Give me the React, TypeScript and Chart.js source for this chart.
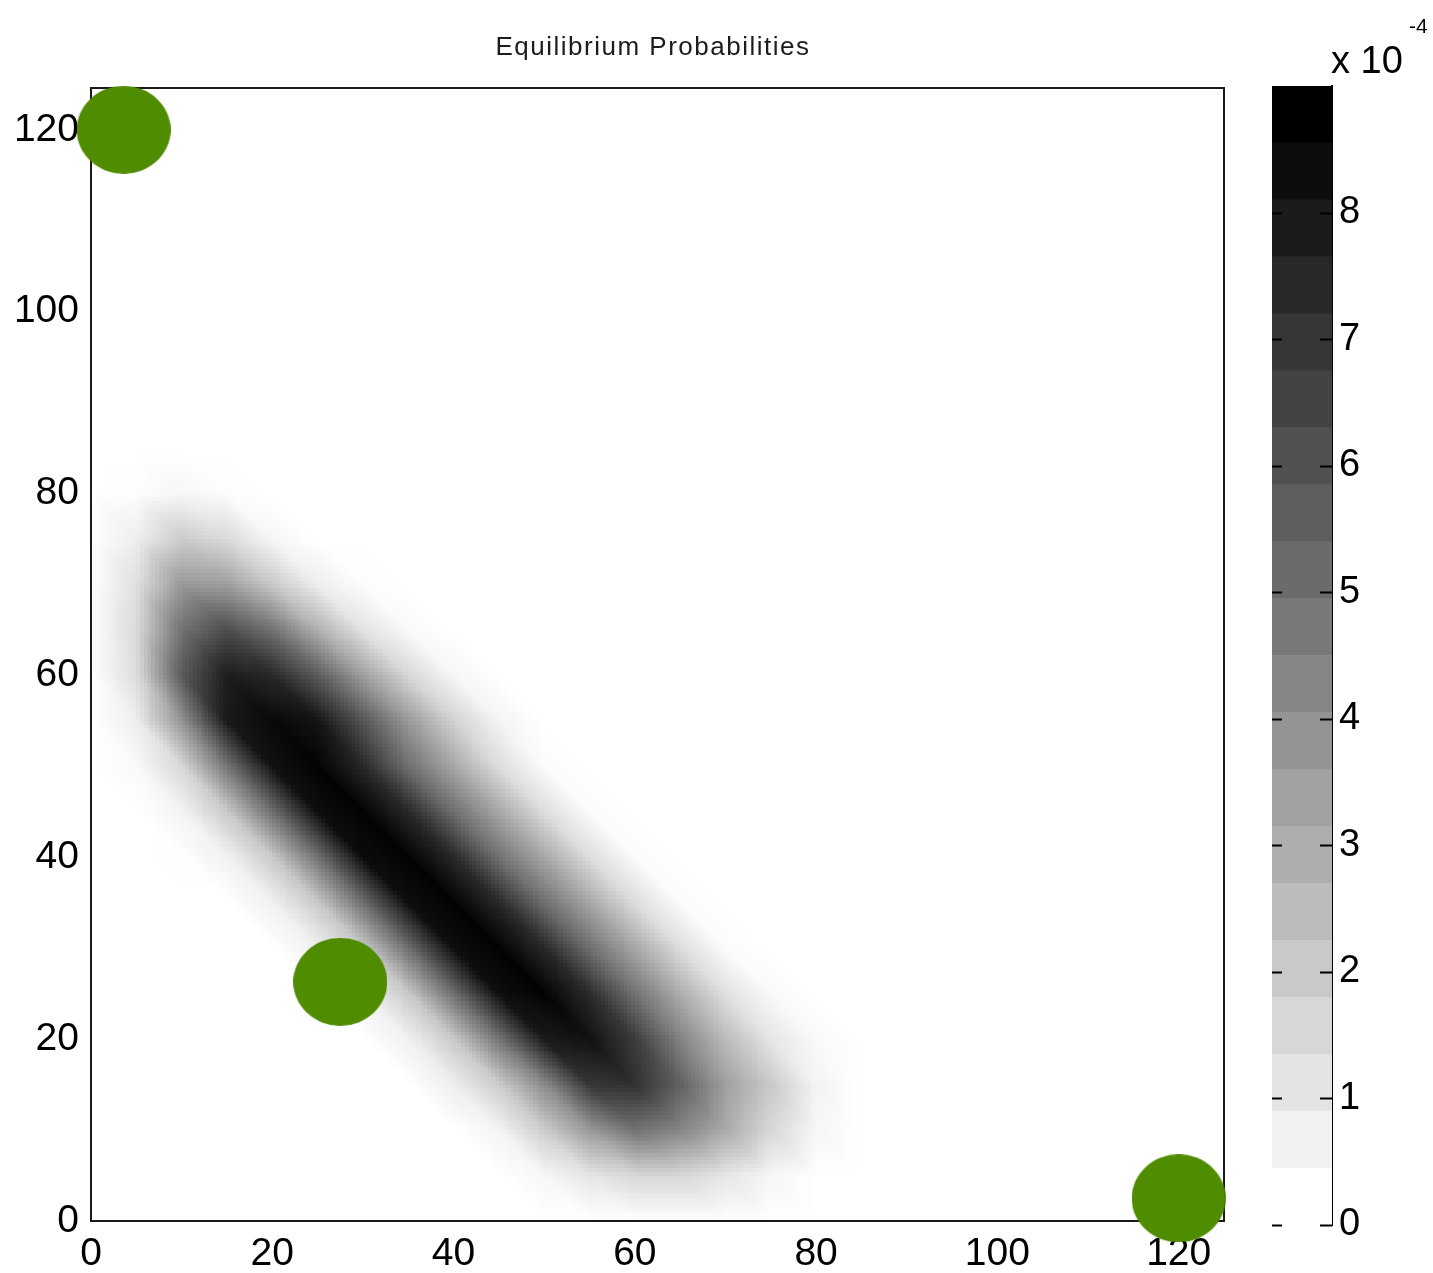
import React, { useEffect, useRef } from 'react';
import { Chart, registerables } from 'chart.js';

Chart.register(...registerables);

// ---------- data ----------
const chartTitle = 'Equilibrium Probabilities';
const xTickValues = [0, 20, 40, 60, 80, 100, 120];
const yTickValues = [0, 20, 40, 60, 80, 100, 120];
const cbTickValues = [0, 1, 2, 3, 4, 5, 6, 7, 8];
const cbMultiplier = 'x 10';
const cbExponent = '-4';

// grid nodes of the probability surface (values in units of 1e-4)
const heatX = [0, 5, 10, 15, 20, 25, 30, 35, 40, 45, 50, 55, 60, 65, 70, 75, 80, 85, 90];
const heatY = [0, 5, 10, 15, 20, 25, 30, 35, 40, 45, 50, 55, 60, 65, 70, 75, 80, 85];
const heatZ: number[][] = [
  [0, 0, 0, 0, 0, 0, 0, 0, 0, 0, 0, 0, 0, 0, 0, 0, 0, 0, 0],
  [0, 0, 0, 0, 0, 0, 0, 0, 0, 0, 0.3, 0.9, 1.4, 1.4, 0.9, 0.3, 0, 0, 0],
  [0, 0, 0, 0, 0, 0, 0, 0, 0, 0.4, 1.8, 3.6, 5.0, 4.3, 3.0, 1.4, 0.3, 0, 0],
  [0, 0, 0, 0, 0, 0, 0, 0, 0.6, 1.8, 4.1, 7.1, 7.3, 5.6, 3.4, 1.9, 0.4, 0, 0],
  [0, 0, 0, 0, 0, 0, 0, 0.5, 1.9, 4.9, 8.1, 8.4, 6.9, 4.4, 2.4, 0.9, 0.2, 0, 0],
  [0, 0, 0, 0, 0, 0, 0.5, 1.9, 5.1, 8.5, 8.9, 7.5, 5.0, 2.9, 1.1, 0.2, 0, 0, 0],
  [0, 0, 0, 0, 0, 0.5, 1.9, 5.1, 8.5, 8.9, 7.6, 5.1, 3.1, 1.2, 0.12, 0, 0, 0, 0],
  [0, 0, 0, 0, 0.5, 1.9, 5.1, 8.5, 8.9, 7.6, 5.1, 3.1, 1.2, 0.14, 0, 0, 0, 0, 0],
  [0, 0, 0.05, 0.45, 1.9, 5.0, 8.6, 8.9, 7.6, 5.0, 3.1, 1.2, 0.15, 0, 0, 0, 0, 0, 0],
  [0, 0, 0.4, 1.9, 5.1, 8.5, 8.9, 7.6, 5.1, 3.1, 1.2, 0.14, 0, 0, 0, 0, 0, 0, 0],
  [0, 0.2, 1.4, 4.9, 8.4, 8.9, 7.6, 5.1, 3.1, 1.2, 0.14, 0, 0, 0, 0, 0, 0, 0, 0],
  [0, 0.6, 3.8, 8.1, 8.7, 8.3, 6.0, 3.6, 1.6, 0.4, 0, 0, 0, 0, 0, 0, 0, 0, 0],
  [0, 1.2, 5.8, 8.0, 7.6, 5.8, 3.4, 1.4, 0.3, 0, 0, 0, 0, 0, 0, 0, 0, 0, 0],
  [0, 1.3, 5.0, 6.3, 5.0, 2.8, 1.0, 0.2, 0, 0, 0, 0, 0, 0, 0, 0, 0, 0, 0],
  [0, 1.1, 3.6, 3.4, 1.9, 0.6, 0.1, 0, 0, 0, 0, 0, 0, 0, 0, 0, 0, 0, 0],
  [0, 0.6, 1.8, 1.3, 0.3, 0, 0, 0, 0, 0, 0, 0, 0, 0, 0, 0, 0, 0, 0],
  [0, 0.05, 0.3, 0.1, 0, 0, 0, 0, 0, 0, 0, 0, 0, 0, 0, 0, 0, 0, 0],
  [0, 0, 0, 0, 0, 0, 0, 0, 0, 0, 0, 0, 0, 0, 0, 0, 0, 0, 0],
];

const markerX = [3.6, 27.5, 120];
const markerY = [120, 26.3, 2.5];

const X_MAX = 125;
const Y_MAX = 124.6;
const C_MAX = 9;
const C_LEVELS = 20;

// ---------- style ----------
const FONT = '"Liberation Sans", Arial, Helvetica, sans-serif';
const GREEN = '#4f8c00';

function grayOf(v: number): string {
  const t = Math.min(1, Math.max(0, v / C_MAX));
  const g = Math.round(255 * (1 - t));
  return `rgb(${g},${g},${g})`;
}

function bandGray(k: number): string {
  const g = Math.round(255 * (1 - k / (C_LEVELS - 1)));
  return `rgb(${g},${g},${g})`;
}

// shading inside a grid cell: two triangles split along the anti-diagonal
function cellValue(z00: number, z10: number, z01: number, z11: number, fx: number, fy: number): number {
  if (fx + fy <= 1) {
    return z00 + (z10 - z00) * fx + (z01 - z00) * fy;
  }
  return z11 + (z01 - z11) * (1 - fx) + (z10 - z11) * (1 - fy);
}

const heatPlugin = {
  id: 'heatmap',
  beforeDatasetsDraw(chart: any) {
    const { ctx, chartArea, scales } = chart;
    const xs = scales.x;
    const ys = scales.y;
    ctx.save();
    ctx.beginPath();
    ctx.rect(chartArea.left, chartArea.top, chartArea.right - chartArea.left, chartArea.bottom - chartArea.top);
    ctx.clip();
    const n = 12;
    for (let j = 0; j < heatY.length - 1; j++) {
      for (let i = 0; i < heatX.length - 1; i++) {
        const z00 = heatZ[j][i];
        const z10 = heatZ[j][i + 1];
        const z01 = heatZ[j + 1][i];
        const z11 = heatZ[j + 1][i + 1];
        if (Math.max(z00, z10, z01, z11) <= 0) continue;
        const x0 = heatX[i], x1 = heatX[i + 1];
        const y0 = heatY[j], y1 = heatY[j + 1];
        for (let a = 0; a < n; a++) {
          const px0 = Math.round(xs.getPixelForValue(x0 + ((x1 - x0) * a) / n));
          const px1 = Math.round(xs.getPixelForValue(x0 + ((x1 - x0) * (a + 1)) / n));
          const fx = (a + 0.5) / n;
          for (let b = 0; b < n; b++) {
            const fy = (b + 0.5) / n;
            const v = cellValue(z00, z10, z01, z11, fx, fy);
            if (v <= 0.02) continue;
            const py0 = Math.round(ys.getPixelForValue(y0 + ((y1 - y0) * b) / n));
            const py1 = Math.round(ys.getPixelForValue(y0 + ((y1 - y0) * (b + 1)) / n));
            ctx.fillStyle = grayOf(v);
            ctx.fillRect(px0, py1, px1 - px0, py0 - py1);
          }
        }
      }
    }
    ctx.restore();
    ctx.save();
    ctx.strokeStyle = '#1a1a1a';
    ctx.lineWidth = 2;
    ctx.strokeRect(chartArea.left, chartArea.top, chartArea.right - chartArea.left, chartArea.bottom - chartArea.top);
    ctx.restore();
  },
  afterDraw(chart: any) {
    const { ctx } = chart;
    ctx.save();
    ctx.fillStyle = '#1c1c1c';
    ctx.font = `26px ${FONT}`;
    try { (ctx as any).letterSpacing = '1.5px'; } catch (e) { /* ignore */ }
    ctx.textAlign = 'center';
    ctx.textBaseline = 'alphabetic';
    ctx.fillText(chartTitle, 653, 55);
    try { (ctx as any).letterSpacing = '0px'; } catch (e) { /* ignore */ }
    ctx.fillStyle = '#000';
    ctx.textAlign = 'left';
    ctx.font = `38px ${FONT}`;
    ctx.fillText(cbMultiplier, 1331, 73);
    ctx.font = `21px ${FONT}`;
    ctx.fillText(cbExponent, 1409, 33);
    ctx.restore();
  },
};

const cbTickPlugin = {
  id: 'cbTicks',
  afterDatasetsDraw(chart: any) {
    const { ctx, chartArea, scales } = chart;
    ctx.save();
    ctx.strokeStyle = '#000';
    ctx.lineWidth = 2;
    for (const v of cbTickValues) {
      const py = Math.round(scales.y.getPixelForValue(v)) + 0.5;
      ctx.beginPath();
      ctx.moveTo(chartArea.left, py);
      ctx.lineTo(chartArea.left + 10, py);
      ctx.moveTo(chartArea.right - 12, py);
      ctx.lineTo(chartArea.right, py);
      ctx.stroke();
    }
    ctx.restore();
  },
};

export default function App() {
  const mainRef = useRef<HTMLCanvasElement | null>(null);
  const cbRef = useRef<HTMLCanvasElement | null>(null);

  useEffect(() => {
    if (!mainRef.current || !cbRef.current) return;

    const ell = document.createElement('canvas');
    ell.width = 94;
    ell.height = 88;
    const ectx = ell.getContext('2d')!;
    ectx.fillStyle = GREEN;
    ectx.beginPath();
    ectx.ellipse(47, 44, 47, 44, 0, 0, Math.PI * 2);
    ectx.fill();

    const tickFont = { family: FONT, size: 39 };

    const main = new Chart(mainRef.current, {
      type: 'scatter',
      data: {
        datasets: [
          {
            data: markerX.map((x, i) => ({ x, y: markerY[i] })),
            pointStyle: ell as any,
            pointRadius: 46,
            backgroundColor: GREEN,
            borderWidth: 0,
            clip: false as any,
          },
        ],
      },
      options: {
        responsive: false,
        animation: false,
        devicePixelRatio: 1,
        events: [],
        layout: { padding: { left: 0, right: 209, top: 88, bottom: 0 } },
        plugins: {
          legend: { display: false },
          tooltip: { enabled: false },
          title: { display: false },
        },
        scales: {
          x: {
            type: 'linear',
            min: 0,
            max: X_MAX,
            afterBuildTicks: (s: any) => {
              s.ticks = xTickValues.map((v) => ({ value: v }));
            },
            afterFit: (s: any) => {
              s.height = 52;
            },
            ticks: { font: tickFont, color: '#000', padding: 10, maxRotation: 0, autoSkip: false },
            grid: { display: false, drawTicks: false },
            border: { display: false },
          },
          y: {
            type: 'linear',
            min: 0,
            max: Y_MAX,
            afterBuildTicks: (s: any) => {
              s.ticks = yTickValues.map((v) => ({ value: v }));
            },
            afterFit: (s: any) => {
              s.width = 91;
            },
            ticks: { font: tickFont, color: '#000', padding: 12, autoSkip: false },
            grid: { display: false, drawTicks: false },
            border: { display: false },
          },
        },
      },
      plugins: [heatPlugin],
    });

    const bands = Array.from({ length: C_LEVELS }, (_, k) => [
      (k * C_MAX) / C_LEVELS,
      ((k + 1) * C_MAX) / C_LEVELS,
    ]);

    const cb = new Chart(cbRef.current, {
      type: 'bar',
      data: {
        labels: [''],
        datasets: bands.map((b, k) => ({
          data: [b as any],
          backgroundColor: bandGray(k),
          borderWidth: 0,
          grouped: false,
          barPercentage: 1,
          categoryPercentage: 1,
        })),
      },
      options: {
        responsive: false,
        animation: false,
        devicePixelRatio: 1,
        events: [],
        layout: { padding: { left: 12, right: 0, top: 86, bottom: 48 } },
        plugins: {
          legend: { display: false },
          tooltip: { enabled: false },
          title: { display: false },
        },
        scales: {
          x: { display: false },
          y: {
            position: 'right',
            min: 0,
            max: C_MAX,
            afterBuildTicks: (s: any) => {
              s.ticks = cbTickValues.map((v) => ({ value: v }));
            },
            afterFit: (s: any) => {
              s.width = 101;
            },
            ticks: { font: { family: FONT, size: 38 }, color: '#000', padding: 7, autoSkip: false },
            grid: { display: false, drawTicks: false },
            border: { display: true, color: '#000', width: 2 },
          },
        },
      },
      plugins: [cbTickPlugin],
    });

    return () => {
      main.destroy();
      cb.destroy();
    };
  }, []);

  return (
    <div style={{ position: 'absolute', left: 0, top: 0, width: 1433, height: 1273, background: '#fff' }}>
      <canvas ref={mainRef} width={1433} height={1273} style={{ position: 'absolute', left: 0, top: 0 }} />
      <canvas ref={cbRef} width={173} height={1273} style={{ position: 'absolute', left: 1260, top: 0 }} />
    </div>
  );
}
